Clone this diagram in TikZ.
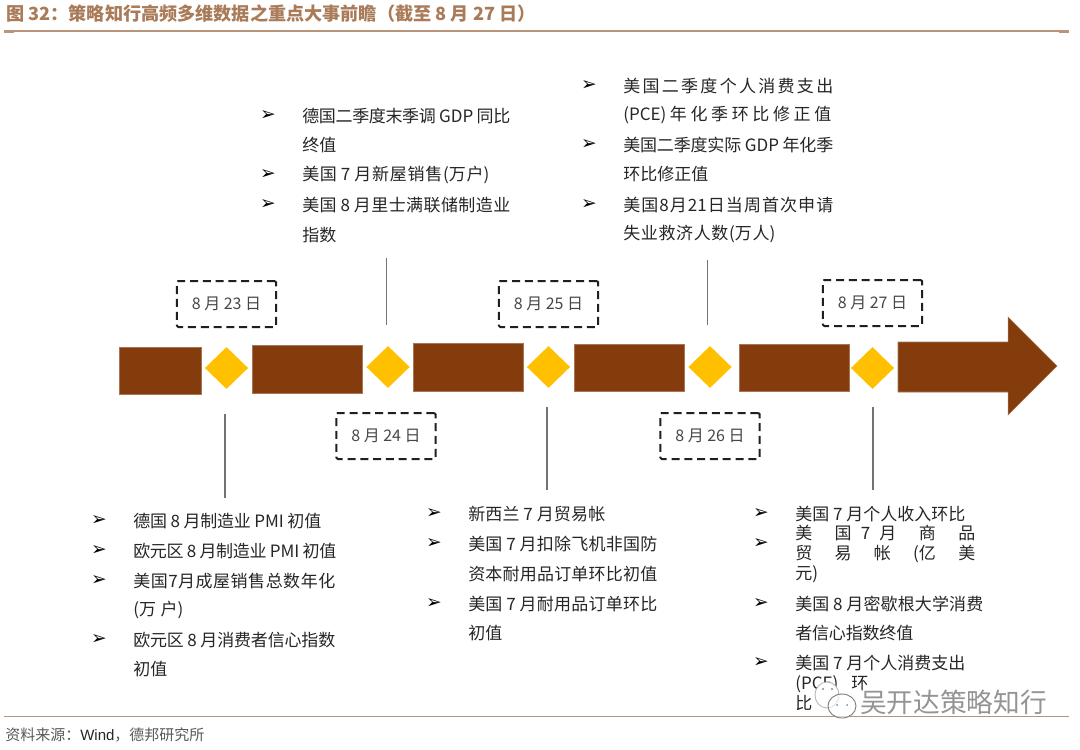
\documentclass[tikz,border=0pt]{standalone}
\usepackage{fontspec}
\setmainfont{Noto Sans CJK SC}
\newfontfamily\arrowfont{DejaVu Sans}
\newfontfamily\latinfont{Liberation Sans}
\usetikzlibrary{shapes.geometric}
\definecolor{barbrown}{HTML}{843C0C}
\definecolor{gold}{HTML}{FFC000}
\definecolor{ruletan}{HTML}{B8947A}
\definecolor{titletan}{HTML}{A97B58}
\tikzset{
  x=0.75pt,y=-0.75pt,
  bar/.style={fill=barbrown,draw=barbrown!70!white,line width=0.4pt},
  gem/.style={fill=gold,draw=none,diamond,minimum width=32.5pt,minimum height=31.5pt,inner sep=0pt},
  datebox/.style={draw=black!88,dashed,dash pattern=on 6pt off 3.6pt,line width=1.5pt,rounded corners=1pt,
    minimum width=74.5pt,minimum height=34.5pt,inner sep=0pt,text=black!72,font=\fontsize{12pt}{14pt}\selectfont},
  txt/.style={anchor=west,inner sep=0pt,text=black!85,font=\fontsize{12.75pt}{15pt}\selectfont},
  bul/.style={anchor=center,inner sep=0pt,text=black,font=\arrowfont\fontsize{14pt}{16pt}\selectfont},
  stem/.style={draw=black!55,line width=0.9pt},
  rulea/.style={draw=ruletan,line width=0.8pt},
  ruleb/.style={draw=ruletan,line width=1.3pt},
}
% justified single line from x=#2 to x=#4 (pixels)
\newcommand{\jline}[2]{\pgfmathsetlengthmacro{\jw}{(#1)*0.75pt}\parbox{\jw}{\XeTeXlinebreaklocale "zh"\XeTeXlinebreakskip=0pt plus 6pt minus 0.6pt\parindent=0pt\parfillskip=0pt\tolerance=10000\hfuzz=30pt\leavevmode #2}}
\newcommand{\tc}[5]{\node[txt] (#1) at (#2,#3) {\jline{#4-#2}{#5}};}
\newcommand{\tl}[5]{\node[bul] (#1b) at (#2-34,#3) {➢};\tc{#1}{#2}{#3}{#4}{#5}}
\begin{document}
\begin{tikzpicture}
\useasboundingbox (0,0) rectangle (1080,749);
\fill[white] (0,0) rectangle (1080,749);
% header
\node[anchor=west,inner sep=0pt,text=titletan,font=\bfseries\fontsize{13.6pt}{15pt}\selectfont] (title) at (6,13.5) {图 32：策略知行高频多维数据之重点大事前瞻（截至 8 月 27 日）};
\coordinate (ra) at (4,31); \coordinate (rb) at (1069,31);
\draw[rulea] (ra) -- (rb);
\coordinate (ta) at (4,32); \coordinate (tb) at (14,32);
\draw[rulea,line width=1.2pt] (ta) -- (tb);
\coordinate (tc) at (1059,32); \coordinate (td) at (1069,32);
\draw[rulea,line width=1.2pt] (tc) -- (td);
% bars
\fill[bar] (119,347) rectangle (201,394);
\fill[bar] (252,345) rectangle (362,393);
\fill[bar] (413,343) rectangle (523,391);
\fill[bar] (574,344) rectangle (684,391);
\fill[bar] (739,344) rectangle (849,391);
\fill[bar] (898,342) -- (1008,342) -- (1008,317) -- (1057,366) -- (1008,415) -- (1008,392) -- (898,392) -- cycle;
% diamonds
\node[gem] (d1) at (226.5,368) {};
\node[gem] (d2) at (388,367) {};
\node[gem] (d3) at (548.5,367) {};
\node[gem] (d4) at (710,367) {};
\node[gem] (d5) at (872.5,368) {};
% dates
\node[datebox] (k1) at (226.5,304) {8 月 23 日};
\node[datebox] (k2) at (386,436) {8 月 24 日};
\node[datebox] (k3) at (548.5,304) {8 月 25 日};
\node[datebox] (k4) at (710,436) {8 月 26 日};
\node[datebox] (k5) at (872.5,303) {8 月 27 日};
% stems
\coordinate (s1a) at (225,414); \coordinate (s1b) at (225,498); \draw[stem] (s1a) -- (s1b);
\coordinate (s2a) at (386.5,258); \coordinate (s2b) at (386.5,325); \draw[stem] (s2a) -- (s2b);
\coordinate (s3a) at (547,407); \coordinate (s3b) at (547,490); \draw[stem] (s3a) -- (s3b);
\coordinate (s4a) at (707.5,260); \coordinate (s4b) at (707.5,325); \draw[stem] (s4a) -- (s4b);
\coordinate (s5a) at (873,407); \coordinate (s5b) at (873,490); \draw[stem] (s5a) -- (s5b);
% top left block
\tl{a1}{302}{116}{510}{德国二季度末季调 GDP 同比}
\tc{a2}{302}{145}{336}{终值}
\tl{a3}{302}{175}{489}{美国 7 月新屋销售(万户)}
\tl{a4}{302}{205}{510}{美国 8 月里士满联储制造业}
\tc{a5}{302}{235}{336}{指数}
% top right block
\tl{b1}{623}{86}{833}{美国二季度个人消费支出}
\tc{b2}{623}{115}{831}{(PCE)年化季环比修正值}
\tl{b3}{623}{145}{833}{美国二季度实际 GDP 年化季}
\tc{b4}{623}{174}{708}{环比修正值}
\tl{b5}{623}{205}{833}{美国8月21日当周首次申请}
\tc{b6}{623}{234}{775}{失业救济人数(万人)}
% bottom left
\tl{c1}{133}{521}{321}{德国 8 月制造业 PMI 初值}
\tl{c2}{133}{551}{336}{欧元区 8 月制造业 PMI 初值}
\tl{c3}{133}{581}{335}{美国7月成屋销售总数年化}
\tc{c4}{133}{610}{183}{(万户)}
\tl{c5}{133}{640}{335}{欧元区 8 月消费者信心指数}
\tc{c6}{133}{669}{167}{初值}
% bottom middle
\tl{e1}{468}{514}{605}{新西兰 7 月贸易帐}
\tl{e2}{468}{544}{657}{美国 7 月扣除飞机非国防}
\tc{e3}{468}{574}{657}{资本耐用品订单环比初值}
\tl{e4}{468}{604}{657}{美国 7 月耐用品订单环比}
\tc{e5}{468}{633}{502}{初值}
% bottom right
\tl{f1}{795}{514}{965}{美国 7 月个人收入环比}
\tl{f2}{795}{544}{975}{美国 7 月商品贸易帐(亿美}
\tc{f3}{795}{574}{817}{元)}
\tl{f4}{795}{604}{983}{美国 8 月密歇根大学消费}
\tc{f5}{795}{633}{913}{者信心指数终值}
\tl{f6}{795}{663}{965}{美国 7 月个人消费支出}
\tc{f7}{795}{693}{868}{(PCE)环比}
% footer
\coordinate (ua) at (4,716.5); \coordinate (ub) at (1069,716.5);
\draw[ruleb] (ua) -- (ub);
\node[anchor=west,inner sep=0pt,text=black!65,font=\fontsize{11.25pt}{13pt}\selectfont] (src) at (5,735) {资料来源：{\latinfont\color{black!85}Wind}，德邦研究所};
% watermark
\fill[white,draw=black!30,line width=0.6pt] (827,695) ellipse [x radius=12,y radius=13];
\draw[black!50,line width=0.7pt,fill=white,fill opacity=0.6] (842,706) ellipse [x radius=14,y radius=12];
\fill[black!45] (837,705) circle (1) (847,705) circle (1);
\fill[black!45] (823,689) circle (1.1) (832,689) circle (1.1);
\node[anchor=west,inner sep=0pt,text=black!42,font=\fontsize{20pt}{22pt}\selectfont] (wm) at (860,702) {吴开达策略知行};
\end{tikzpicture}
\end{document}
